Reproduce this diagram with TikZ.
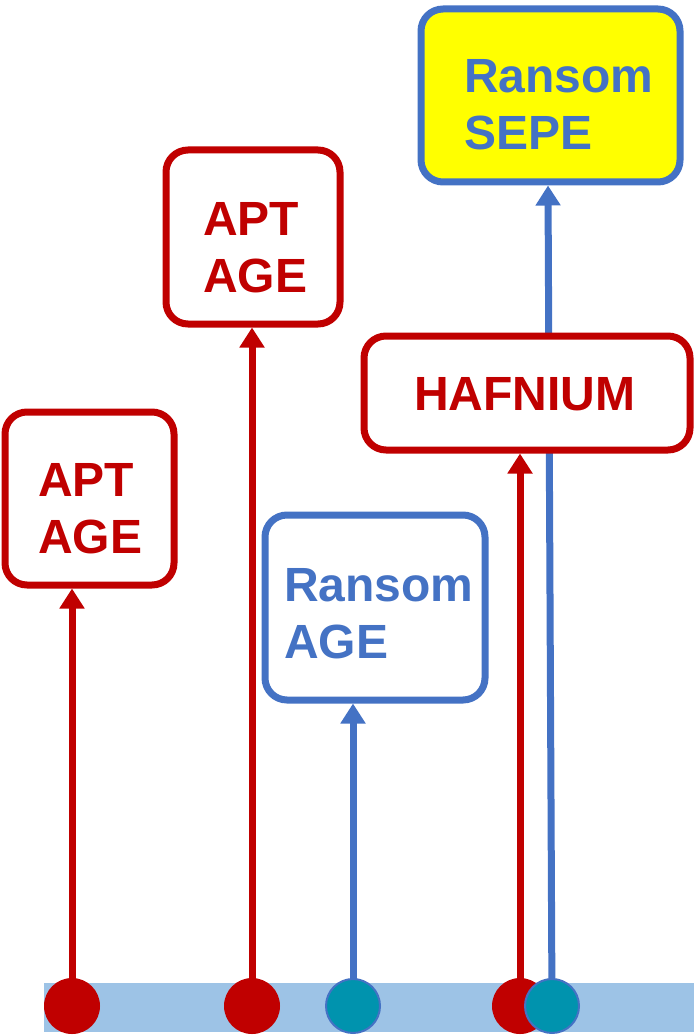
\documentclass[tikz,border=0pt]{standalone}
\usepackage{fontspec}
\setmainfont{Liberation Sans}
\usetikzlibrary{arrows.meta}
\definecolor{cred}{HTML}{C00000}
\definecolor{cblue}{HTML}{4472C4}
\definecolor{cbar}{HTML}{9DC3E6}
\definecolor{cteal}{HTML}{0093AE}
\definecolor{cyel}{HTML}{FFFF00}
\pgfdeclarelayer{back}
\pgfdeclarelayer{lines}
\pgfsetlayers{back,lines,main}
\begin{document}
\begin{tikzpicture}[x=1pt,y=-1pt,
  box/.style={draw, line width=7pt, rounded corners=22pt, fill=white, inner sep=0pt},
  lbl/.style={anchor=north west, align=left, inner sep=0pt, font=\fontsize{48}{57}\selectfont\bfseries},
  conn/.style={line width=7pt, -{Triangle[width=24pt,length=20pt]}},
  reddot/.style={circle, minimum size=56pt, inner sep=0pt, fill=cred},
  tealdot/.style={circle, minimum size=54pt, inner sep=0pt, fill=cteal, draw=cblue, line width=2pt}]
\useasboundingbox (0,0) rectangle (694,1035);
% bar
\begin{pgfonlayer}{back}
\fill[cbar] (44,983) rectangle (694,1032);
\end{pgfonlayer}
% dots
\node[reddot] (r1) at (72,1006) {};
\node[reddot] (r2) at (252,1006) {};
\node[tealdot] (g1) at (353,1006) {};
\node[reddot] (r3) at (520,1006) {};
\node[tealdot] (g2) at (552,1006) {};
% boxes
\node[box, draw=cred, minimum width=169pt, minimum height=173pt] (b1) at (89.5,498.5) {};
\node[box, draw=cred, minimum width=174pt, minimum height=174pt] (b2) at (253,237) {};
\node[box, draw=cblue, minimum width=220pt, minimum height=185pt] (b3) at (375,607.5) {};
\node[box, draw=cred, minimum width=326pt, minimum height=114pt] (b4) at (527,393) {};
\node[box, draw=cblue, fill=cyel, minimum width=259pt, minimum height=173pt] (b5) at (550.5,95.5) {};
% labels
\node[lbl, text=cred] (l1) at (38,463) {APT\\AGE};
\node[lbl, text=cred] (l2) at (203,202) {APT\\AGE};
\node[lbl, text=cblue] (l3) at (284,568) {Ransom\\AGE};
\node[lbl, text=cred] (l4) at (414,377) {HAFNIUM};
\node[lbl, text=cblue] (l5) at (464,59) {Ransom\\SEPE};
% connectors
\begin{pgfonlayer}{lines}
\draw[conn, cred] (r1.center) -- (r1 |- b1.south);
\draw[conn, cred] (r2.center) -- (r2 |- b2.south);
\draw[conn, cblue] (g1.center) -- (g1 |- b3.south);
\draw[conn, cred] (r3.center) -- (r3 |- b4.south);
\draw[conn, cblue] (g2.center) -- ([xshift=-2.5pt]b5.south);
\end{pgfonlayer}
\end{tikzpicture}
\end{document}
